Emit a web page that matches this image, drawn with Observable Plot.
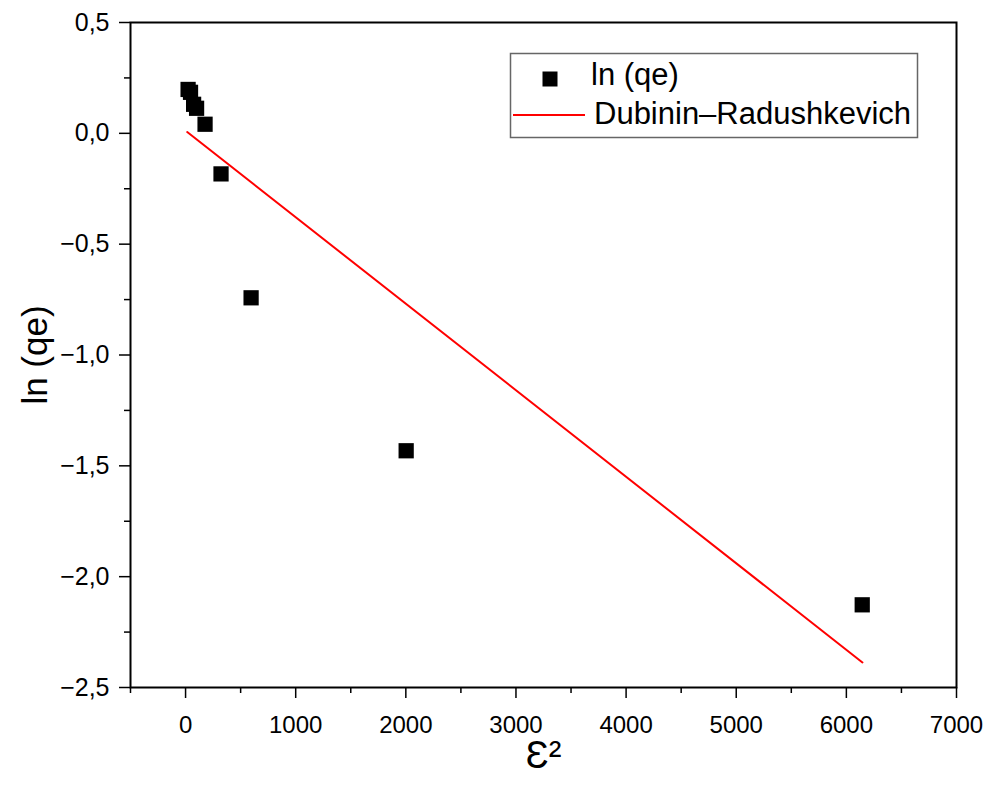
<!DOCTYPE html>
<html>
<head>
<meta charset="utf-8">
<script src="https://cdn.jsdelivr.net/npm/d3@7"></script>
<script src="https://cdn.jsdelivr.net/npm/@observablehq/plot@0.6"></script>
<style>
  html, body { margin: 0; padding: 0; background: #fff; }
  #chart { position: relative; width: 992px; height: 785px; }
</style>
</head>
<body>
<div id="chart"></div>
<script>
// Data
const epsilon2 = [23, 45, 73, 100, 177, 322, 595, 2003, 6144];
const lnQe = [0.198, 0.185, 0.131, 0.113, 0.041, -0.183, -0.742, -1.432, -2.127];
// Dubinin–Radushkevich fitted line endpoints
const fitX = [15, 6146];
const fitY = [0.006, -2.387];
// Ticks
const xTicks = [0, 1000, 2000, 3000, 4000, 5000, 6000, 7000];
const xMinor = [-500, 500, 1500, 2500, 3500, 4500, 5500, 6500];
const yTicks = [0.5, 0, -0.5, -1, -1.5, -2, -2.5];
const yMinor = [0.25, -0.25, -0.75, -1.25, -1.75, -2.25];
const seriesNames = ["ln (qe)", "Dubinin–Radushkevich"];
const xTitle = "Ɛ²";
const yTitle = "ln (qe)";

const points = epsilon2.map((x, i) => ({x, y: lnQe[i]}));
const fit = fitX.map((x, i) => ({x, y: fitY[i]}));
const fmtY = d => (d < 0 ? "−" : "") + Math.abs(d).toFixed(1).replace(".", ",");

const font = "'Liberation Sans', Arial, Helvetica, sans-serif";

const plot = Plot.plot({
  width: 992,
  height: 785,
  marginLeft: 130,
  marginRight: 36,
  marginTop: 22,
  marginBottom: 98,
  style: {fontFamily: font, background: "#fff", color: "#000"},
  x: {domain: [-500, 7000]},
  y: {domain: [-2.5, 0.5]},
  marks: [
    Plot.axisX({ticks: xMinor, tickSize: 6, tickFormat: () => "", strokeWidth: 1.5, label: null}),
    Plot.axisX({ticks: xTicks, tickSize: 11, tickPadding: 17, tickFormat: d => String(d), fontSize: 24, strokeWidth: 1.5, label: null}),
    Plot.axisY({ticks: yMinor, tickSize: 6, tickFormat: () => "", strokeWidth: 1.5, label: null}),
    Plot.axisY({ticks: yTicks, tickSize: 11, tickPadding: 10, tickFormat: fmtY, fontSize: 25, strokeWidth: 1.5, label: null}),
    Plot.frame({stroke: "#000", strokeWidth: 2}),
    Plot.line(fit, {x: "x", y: "y", stroke: "#ff0000", strokeWidth: 2}),
    Plot.dot(points, {x: "x", y: "y", symbol: "square", r: 8.6, fill: "#000", stroke: "none"}),
    Plot.text([xTitle], {text: d => d, frameAnchor: "bottom", dy: 80, fontSize: 38, fill: "#000"}),
    Plot.text([yTitle], {text: d => d, frameAnchor: "left", textAnchor: "middle", dx: -95, rotate: -90, fontSize: 35, fill: "#000"})
  ]
});
document.getElementById("chart").appendChild(plot);

// Legend inside the plot area
const svg = d3.select(plot);
const lg = svg.append("g").attr("font-family", font).attr("font-size", 31).attr("text-anchor", "start");
lg.append("rect").attr("x", 510.5).attr("y", 53.5).attr("width", 407).attr("height", 84)
  .attr("fill", "#fff").attr("stroke", "#666").attr("stroke-width", 1.5);
lg.append("rect").attr("x", 542.5).attr("y", 71.5).attr("width", 15).attr("height", 15).attr("fill", "#000");
lg.append("text").attr("x", 591).attr("y", 85).attr("text-anchor", "start").attr("fill", "#000").text(seriesNames[0]);
lg.append("line").attr("x1", 513).attr("x2", 585).attr("y1", 115).attr("y2", 115)
  .attr("stroke", "#ff0000").attr("stroke-width", 2);
lg.append("text").attr("x", 594).attr("y", 124).attr("text-anchor", "start").attr("fill", "#000").text(seriesNames[1]);
</script>
</body>
</html>
